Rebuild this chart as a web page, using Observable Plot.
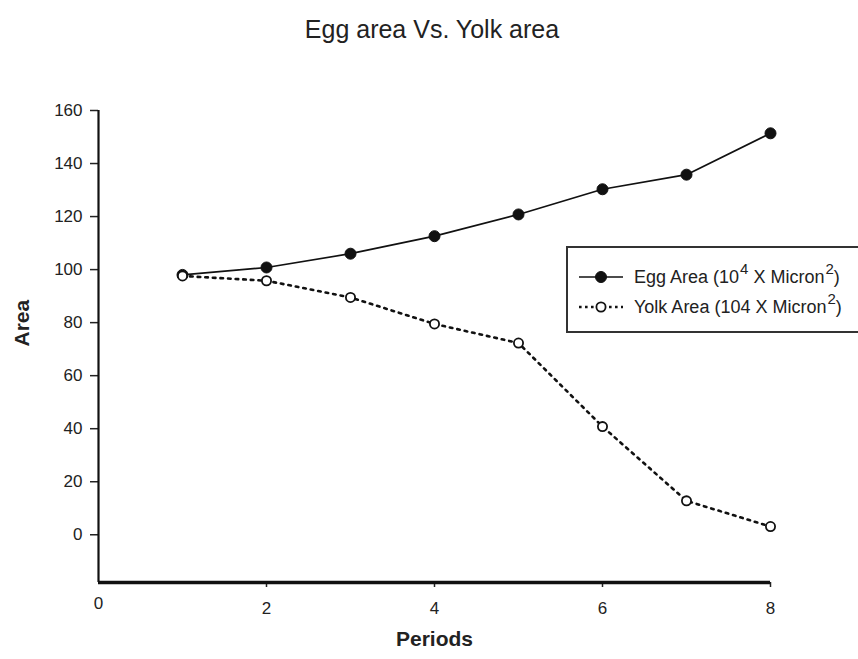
<!DOCTYPE html>
<html>
<head>
<meta charset="utf-8">
<script src="https://cdn.jsdelivr.net/npm/d3@7"></script>
<script src="https://cdn.jsdelivr.net/npm/@observablehq/plot@0.6"></script>
<style>
  html, body { margin: 0; padding: 0; background: #fff; overflow: hidden; }
  body { font-family: "Liberation Sans", Arial, sans-serif; color: #222; }
  #wrap { position: relative; width: 858px; height: 659px; }
  #title { height: 43px; padding-top: 17px; line-height: 25px; font-size: 25px; text-align: center; color: #222; padding-left: 6px; }
  #legend { position: absolute; left: 566px; top: 246px; width: 320px; height: 83px; border: 2px solid #333; box-sizing: content-box; background: #fff; }
  .row { position: absolute; left: 0; height: 30px; display: flex; align-items: center; font-size: 18px; color: #222; white-space: nowrap; }
  .row svg { margin-left: 10px; margin-right: 10px; }
  .row sup { font-size: 15px; vertical-align: 0.6em; line-height: 0; margin-left: 1px; }
</style>
</head>
<body>
<div id="wrap">
  <div id="title">Egg area Vs. Yolk area</div>
  <div id="chart"></div>
  <div id="legend"></div>
</div>
<script>
// Data
const periods = [1, 2, 3, 4, 5, 6, 7, 8];
const eggArea = [98, 100.8, 106, 112.6, 120.8, 130.3, 135.8, 151.4];
const yolkArea = [97.6, 95.8, 89.5, 79.5, 72.3, 40.8, 12.8, 3.1];
const xTicks = [0, 2, 4, 6, 8];
const yTicks = [0, 20, 40, 60, 80, 100, 120, 140, 160];
const seriesNames = ["Egg Area", "Yolk Area"];

const egg = periods.map((p, i) => ({period: p, area: eggArea[i]}));
const yolk = periods.map((p, i) => ({period: p, area: yolkArea[i]}));

const xDomain = [0, 8];
const yDomain = [-18, 160];

const chart = Plot.plot({
  width: 858,
  height: 599,
  marginLeft: 98,
  marginRight: 88,
  marginTop: 50,
  marginBottom: 77,
  style: {fontFamily: "'Liberation Sans', Arial, sans-serif", color: "#222", background: "#fff"},
  x: {domain: xDomain},
  y: {domain: yDomain},
  marks: [
    Plot.axisY(yTicks, {tickSize: 8, tickPadding: 8, fontSize: 17, label: null, stroke: "#222", strokeWidth: 1.5}),
    Plot.axisX(xTicks.filter(d => d !== 0), {tickSize: 5, tickPadding: 14, fontSize: 17, label: null, stroke: "#222", strokeWidth: 1.5}),
    Plot.text(xTicks.filter(d => d === 0), {x: d => d, frameAnchor: "bottom", dy: 26, fontSize: 17, fill: "#222"}),
    Plot.ruleX([xDomain[0]], {y1: yDomain[0], y2: yDomain[1], stroke: "#111", strokeWidth: 2.2}),
    Plot.ruleY([yDomain[0]], {x1: xDomain[0], x2: xDomain[1], stroke: "#111", strokeWidth: 3.6}),
    Plot.text(["Area"], {frameAnchor: "left", dx: -76, rotate: -90, fontSize: 21, fontWeight: "bold", fill: "#222"}),
    Plot.text(["Periods"], {frameAnchor: "bottom", dy: 63, fontSize: 21, fontWeight: "bold", fill: "#222"}),
    Plot.line(egg, {x: "period", y: "area", stroke: "#111", strokeWidth: 1.7}),
    Plot.line(yolk, {x: "period", y: "area", stroke: "#111", strokeWidth: 2.6, strokeDasharray: "2.6,5"}),
    Plot.dot(egg, {x: "period", y: "area", r: 5.5, fill: "#111", stroke: "#111", strokeWidth: 1}),
    Plot.dot(yolk, {x: "period", y: "area", r: 4.6, fill: "#fff", stroke: "#111", strokeWidth: 1.8})
  ]
});
document.getElementById("chart").appendChild(chart);

// Legend
const legend = document.getElementById("legend");
const labels = [
  `${seriesNames[0]} (10<sup>4</sup> X Micron<sup>2</sup>)`,
  `${seriesNames[1]} (104 X Micron<sup>2</sup>)`
];
const rowTops = [14, 44];
labels.forEach((html, i) => {
  const row = document.createElement("div");
  row.className = "row";
  row.style.top = rowTops[i] + "px";
  const isEgg = i === 0;
  const svgNS = "http://www.w3.org/2000/svg";
  const svg = document.createElementNS(svgNS, "svg");
  svg.setAttribute("width", 46);
  svg.setAttribute("height", 16);
  const line = document.createElementNS(svgNS, "line");
  line.setAttribute("x1", 1); line.setAttribute("x2", 45);
  line.setAttribute("y1", 8); line.setAttribute("y2", 8);
  line.setAttribute("stroke", "#111");
  line.setAttribute("stroke-width", isEgg ? 1.7 : 2.6);
  if (!isEgg) line.setAttribute("stroke-dasharray", "2.6,3.4");
  svg.appendChild(line);
  const c = document.createElementNS(svgNS, "circle");
  c.setAttribute("cx", 23); c.setAttribute("cy", 8);
  c.setAttribute("r", isEgg ? 5.5 : 4.6);
  c.setAttribute("fill", isEgg ? "#111" : "#fff");
  c.setAttribute("stroke", "#111");
  c.setAttribute("stroke-width", isEgg ? 1 : 1.8);
  svg.appendChild(c);
  row.appendChild(svg);
  const span = document.createElement("span");
  span.innerHTML = html;
  row.appendChild(span);
  legend.appendChild(row);
});
</script>
</body>
</html>
